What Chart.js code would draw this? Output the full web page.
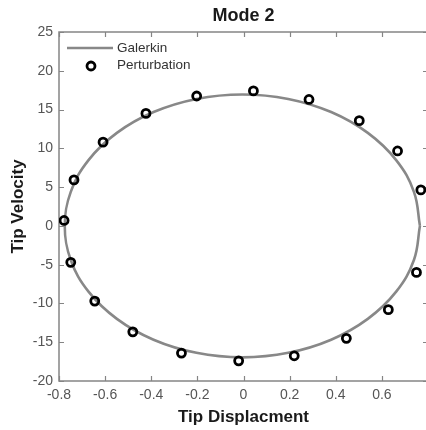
<!DOCTYPE html>
<html>
<head>
<meta charset="utf-8">
<title>Mode 2</title>
<script src="https://cdn.jsdelivr.net/npm/chart.js@4/dist/chart.umd.min.js"></script>
<style>
  html, body { margin: 0; padding: 0; background: #fff; overflow: hidden; }
  #wrap { width: 430px; height: 430px; }
</style>
</head>
<body>
<div id="wrap"><canvas id="chart" width="430" height="430"></canvas></div>
<script>
// --- Datos: curva Galerkin (cerrada) ---
const galerkinX = [0.765, 0.739, 0.662, 0.539, 0.380, 0.194, -0.005, -0.204, -0.390, -0.549, -0.672, -0.749,
                   -0.775, -0.749, -0.672, -0.549, -0.390, -0.204, -0.005, 0.194, 0.380, 0.539, 0.662, 0.739, 0.765];
const galerkinY = [0, 4.39, 8.48, 11.99, 14.68, 16.37, 16.95, 16.37, 14.68, 11.99, 8.48, 4.39,
                   0, -4.39, -8.48, -11.99, -14.68, -16.37, -16.95, -16.37, -14.68, -11.99, -8.48, -4.39, 0];

// --- Datos: perturbación ---
const pertX = [-0.778, -0.749, -0.645, -0.480, -0.269, -0.021, 0.220, 0.446, 0.628, 0.750,
               0.769, 0.668, 0.502, 0.284, 0.043, -0.203, -0.423, -0.609, -0.735];
const pertY = [0.7, -4.7, -9.7, -13.66, -16.4, -17.4, -16.75, -14.5, -10.8, -6.0,
               4.64, 9.66, 13.57, 16.3, 17.4, 16.75, 14.5, 10.8, 5.93];

// --- Ejes ---
const xTicks = [-0.8, -0.6, -0.4, -0.2, 0, 0.2, 0.4, 0.6];
const xTickLabels = ["-0.8", "-0.6", "-0.4", "-0.2", "0", "0.2", "0.4", "0.6"];
const yTicks = [-20, -15, -10, -5, 0, 5, 10, 15, 20, 25];
const yTickLabels = ["-20", "-15", "-10", "-5", "0", "5", "10", "15", "20", "25"];
const xRange = [-0.8, 0.8];
const yRange = [-20, 25];

const FONT = "'Liberation Sans', Arial, Helvetica, sans-serif";
const AXIS_COLOR = "#858585";

const toPoints = (xs, ys) => xs.map((x, i) => ({ x, y: ys[i] }));

// --- Caja del eje con marcas hacia dentro ---
const axesBox = {
  id: "axesBox",
  beforeDatasetsDraw(chart) {
    const { ctx, chartArea: a, scales: { x, y } } = chart;
    const t = 5;
    ctx.save();
    ctx.strokeStyle = AXIS_COLOR;
    ctx.lineWidth = 1.5;
    ctx.strokeRect(a.left, a.top, a.right - a.left, a.bottom - a.top);
    ctx.beginPath();
    xTicks.forEach(v => {
      const px = Math.round(x.getPixelForValue(v)) + 0.5;
      ctx.moveTo(px, a.bottom); ctx.lineTo(px, a.bottom - t);
      ctx.moveTo(px, a.top);    ctx.lineTo(px, a.top + t);
    });
    yTicks.forEach(v => {
      const py = Math.round(y.getPixelForValue(v)) + 0.5;
      ctx.moveTo(a.left, py);  ctx.lineTo(a.left + t, py);
      ctx.moveTo(a.right, py); ctx.lineTo(a.right - t, py);
    });
    ctx.lineWidth = 1.2;
    ctx.stroke();
    ctx.restore();
  }
};

// --- Leyenda dentro del área ---
const boxLegend = {
  id: "boxLegend",
  afterDatasetsDraw(chart) {
    const { ctx, chartArea: a } = chart;
    const [gal, per] = chart.data.datasets;
    const x0 = a.left + 8, row1 = a.top + 16, row2 = a.top + 33;
    ctx.save();
    ctx.strokeStyle = gal.borderColor;
    ctx.lineWidth = gal.borderWidth;
    ctx.beginPath();
    ctx.moveTo(x0, row1); ctx.lineTo(x0 + 46, row1);
    ctx.stroke();
    ctx.strokeStyle = per.pointBorderColor;
    ctx.lineWidth = per.pointBorderWidth;
    ctx.beginPath();
    ctx.arc(x0 + 24, row2 + 1, per.pointRadius, 0, Math.PI * 2);
    ctx.stroke();
    ctx.fillStyle = "#333";
    ctx.font = `13.5px ${FONT}`;
    ctx.textBaseline = "middle";
    ctx.fillText(gal.label, x0 + 50, row1);
    ctx.fillText(per.label, x0 + 50, row2);
    ctx.restore();
  }
};

new Chart(document.getElementById("chart"), {
  type: "scatter",
  data: {
    datasets: [
      {
        label: "Galerkin",
        data: toPoints(galerkinX, galerkinY),
        showLine: true,
        borderColor: "#888",
        borderWidth: 2.6,
        tension: 0.4,
        pointRadius: 0,
        order: 2
      },
      {
        label: "Perturbation",
        data: toPoints(pertX, pertY),
        showLine: false,
        pointRadius: 4,
        pointBorderWidth: 2.8,
        pointBorderColor: "#000",
        pointBackgroundColor: "rgba(255,255,255,0)",
        order: 1
      }
    ]
  },
  options: {
    responsive: false,
    animation: false,
    // el borde derecho del eje queda fuera de la ventana
    layout: { autoPadding: false, padding: { left: 0, right: 2, top: 0, bottom: 0 } },
    plugins: {
      legend: { display: false },
      title: { display: false },
      tooltip: { enabled: false }
    },
    scales: {
      x: {
        type: "linear",
        min: xRange[0], max: xRange[1],
        afterBuildTicks: s => { s.ticks = xTicks.map(v => ({ value: v })); },
        afterFit: s => { s.height = 49; s.paddingLeft = 0; s.paddingRight = 0; },
        grid: { display: false, drawTicks: false },
        border: { display: false },
        ticks: {
          padding: 6,
          color: "#555",
          font: { family: FONT, size: 14 },
          maxRotation: 0,
          callback: (v, i) => xTickLabels[i]
        },
        title: {
          display: true,
          text: "Tip Displacment",
          color: "#1a1a1a",
          font: { family: FONT, size: 17, weight: "bold" },
          padding: { top: 0, bottom: 2 }
        }
      },
      top: {
        type: "linear",
        position: "top",
        min: xRange[0], max: xRange[1],
        afterFit: s => { s.height = 32; s.paddingLeft = 0; s.paddingRight = 0; },
        grid: { display: false, drawTicks: false },
        border: { display: false },
        ticks: { display: false },
        title: {
          display: true,
          text: "Mode 2",
          color: "#1a1a1a",
          font: { family: FONT, size: 18, weight: "bold" },
          padding: { top: 5, bottom: 0 }
        }
      },
      y: {
        type: "linear",
        min: yRange[0], max: yRange[1],
        afterBuildTicks: s => { s.ticks = yTicks.map(v => ({ value: v })); },
        afterFit: s => { s.width = 59; },
        grid: { display: false, drawTicks: false },
        border: { display: false },
        ticks: {
          padding: 6,
          color: "#555",
          font: { family: FONT, size: 14 },
          callback: (v, i) => yTickLabels[i]
        },
        title: {
          display: true,
          text: "Tip Velocity",
          color: "#1a1a1a",
          font: { family: FONT, size: 17, weight: "bold" },
          padding: { top: 8, bottom: 0 }
        }
      }
    }
  },
  plugins: [axesBox, boxLegend]
});
</script>
</body>
</html>
